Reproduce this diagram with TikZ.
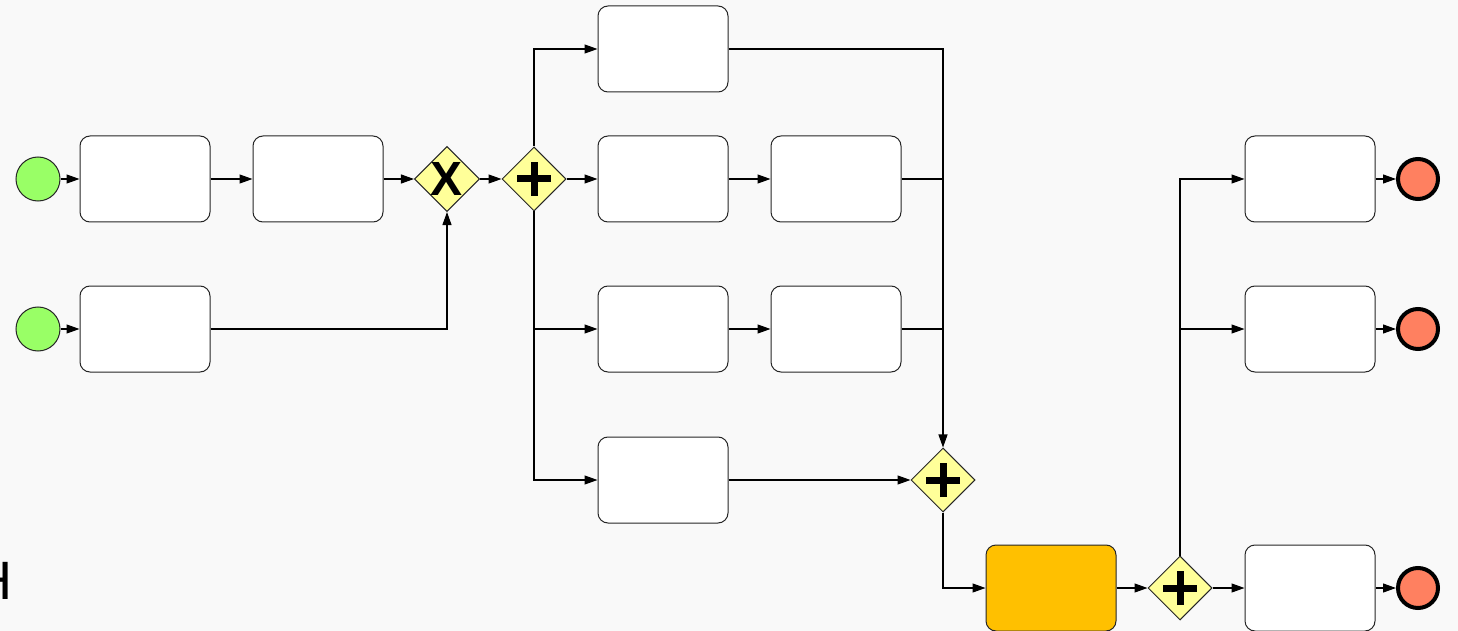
\documentclass[tikz,border=0pt]{standalone}
\usepackage{xcolor}
\usepackage{fontspec}
\setmainfont{Liberation Sans}
\usetikzlibrary{shapes.geometric,arrows.meta,positioning}

\definecolor{startgreen}{RGB}{153,255,102}
\definecolor{endred}{RGB}{255,128,96}
\definecolor{gateyellow}{RGB}{255,255,153}
\definecolor{hotorange}{RGB}{255,192,0}
\definecolor{paper}{RGB}{249,249,249}

\tikzset{
  task/.style={draw=black!85,fill=white,rounded corners=5pt,minimum width=65pt,minimum height=43pt,line width=0.5pt},
  startevent/.style={circle,draw=black!85,fill=startgreen,minimum size=22pt,inner sep=0pt,line width=0.5pt},
  endevent/.style={circle,draw=black,fill=endred,minimum size=20pt,inner sep=0pt,line width=2pt},
  gateway/.style={diamond,draw=black!85,fill=gateyellow,minimum width=32pt,minimum height=32pt,inner sep=0pt,line width=0.5pt},
  xorgate/.style={gateway,font=\fontsize{24}{24}\selectfont\bfseries},
  andgate/.style={gateway,path picture={
      \draw[black,line width=3.5pt] ([xshift=-8.5pt]path picture bounding box.center) -- ([xshift=8.5pt]path picture bounding box.center);
      \draw[black,line width=3.5pt] ([yshift=-8.5pt]path picture bounding box.center) -- ([yshift=8.5pt]path picture bounding box.center);}},
  flow/.style={draw=black,line width=0.6pt,-{Triangle[length=6.5pt,width=4.5pt]}},
  plainflow/.style={draw=black,line width=0.6pt}
}

\begin{document}
\begin{tikzpicture}[x=0.5pt,y=-0.5pt,auto]
  % page with its margins
  \fill[paper] (0,0) rectangle (1458,631);
  \useasboundingbox (0,0) rectangle (1458,631);

  % cut-off letter at the left edge
  \node[font=\fontsize{27}{27}\selectfont,anchor=base east,inner sep=0pt] (cutH) at (13,599) {H};

  % start events and first tasks
  \node[startevent] (start1) at (38,179) {};
  \node[startevent] (start2) at (38,329) {};
  \node[task] (t1) at (145,179) {};
  \node[task] (t2) at (318,179) {};
  \node[task] (t3) at (145,329) {};

  % gateways
  \node[xorgate] (xor) at (447,179) {X};
  \node[andgate] (fork) at (534,179) {};
  \node[andgate] (join) at (943,480) {};
  \node[andgate] (split) at (1180,588) {};

  % parallel branches
  \node[task] (a1) at (663,49) {};
  \node[task] (b1) at (663,179) {};
  \node[task] (b2) at (836,179) {};
  \node[task] (c1) at (663,329) {};
  \node[task] (c2) at (836,329) {};
  \node[task] (d1) at (663,480) {};

  % highlighted task
  \node[task,fill=hotorange] (hot) at (1051,588) {};

  % last tasks and end events
  \node[task] (e1) at (1310,179) {};
  \node[task] (e2) at (1310,329) {};
  \node[task] (e3) at (1310,588) {};
  \node[endevent] (end1) at (1418,179) {};
  \node[endevent] (end2) at (1418,329) {};
  \node[endevent] (end3) at (1418,588) {};

  % sequence flows
  \draw[flow] (start1) -- (t1);
  \draw[flow] (t1) -- (t2);
  \draw[flow] (t2) -- (xor);
  \draw[flow] (start2) -- (t3);
  \draw[flow] (t3) -| (xor);
  \draw[flow] (xor) -- (fork);

  \draw[flow] (fork) |- (a1);
  \draw[flow] (fork) -- (b1);
  \draw[flow] (fork.south) |- (c1);
  \draw[flow] (fork.south) |- (d1);
  \draw[flow] (b1) -- (b2);
  \draw[flow] (c1) -- (c2);

  \draw[flow] (a1) -| (join);
  \draw[plainflow] (b2.east) -- (b2.east -| join);
  \draw[plainflow] (c2.east) -- (c2.east -| join);
  \draw[flow] (d1) -- (join);

  \draw[flow] (join) |- (hot);
  \draw[flow] (hot) -- (split);
  \draw[flow] (split) |- (e1);
  \draw[flow] (split.north) |- (e2);
  \draw[flow] (split) -- (e3);

  \draw[flow] (e1) -- (end1);
  \draw[flow] (e2) -- (end2);
  \draw[flow] (e3) -- (end3);
\end{tikzpicture}
\end{document}
